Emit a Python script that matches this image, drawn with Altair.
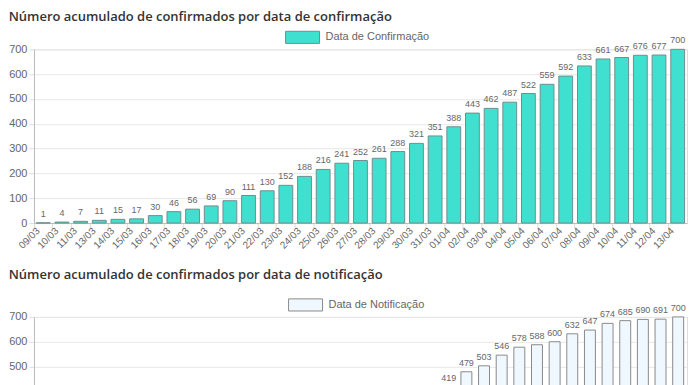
import altair as alt
import pandas as pd

conf_dates = ["09/03", "10/03", "11/03", "13/03", "14/03", "15/03", "16/03", "17/03", "18/03",
              "19/03", "20/03", "21/03", "22/03", "23/03", "24/03", "25/03", "26/03", "27/03",
              "28/03", "29/03", "30/03", "31/03", "01/04", "02/04", "03/04", "04/04", "05/04",
              "06/04", "07/04", "08/04", "09/04", "10/04", "11/04", "12/04", "13/04"]
conf_values = [1, 4, 7, 11, 15, 17, 30, 46, 56, 69, 90, 111, 130, 152, 188, 216, 241, 252,
               261, 288, 321, 351, 388, 443, 462, 487, 522, 559, 592, 633, 661, 667, 676, 677, 700]

notif_dates = ["08/03", "09/03", "10/03", "11/03", "12/03", "13/03", "14/03", "15/03", "16/03",
               "17/03", "18/03", "19/03", "20/03", "21/03", "22/03", "23/03", "24/03", "25/03",
               "26/03", "27/03", "28/03", "29/03", "30/03", "31/03", "01/04", "02/04", "03/04",
               "04/04", "05/04", "06/04", "07/04", "08/04", "09/04", "10/04", "11/04", "12/04", "13/04"]
notif_values = [1, 3, 6, 9, 13, 18, 24, 33, 44, 58, 75, 95, 118, 142, 170, 199, 228, 258, 287,
                318, 340, 358, 375, 419, 479, 503, 546, 578, 588, 600, 632, 647, 674, 685, 690, 691, 700]

y_ticks = [0, 100, 200, 300, 400, 500, 600, 700]

W = 654
H = 174
LEGEND_PATH = "M-1.4,-0.5L1.4,-0.5L1.4,0.5L-1.4,0.5Z"


def panel(dates, values, series, fill, stroke, title, bar_frac, legend_x, label_off, title_off):
    df = pd.DataFrame({"data": dates, "valor": values, "serie": series})
    base = alt.Chart(df).encode(
        x=alt.X("data:N", sort=dates, title=None,
                scale=alt.Scale(paddingInner=0, paddingOuter=0),
                axis=alt.Axis(labelAngle=315, labelAlign="right", labelBaseline="middle",
                              bandPosition=0, labelOffset=label_off, labelPadding=1,
                              tickSize=5, tickColor="#dddddd", gridColor="#e8e8e8",
                              domainColor="#bbbbbb", labelColor="#666666", labelFontSize=10,
                              labelFont="Liberation Sans", labelOverlap=False)),
        y=alt.Y("valor:Q", title=None, scale=alt.Scale(domain=[0, 700]),
                axis=alt.Axis(values=y_ticks, tickSize=5, tickColor="#dddddd",
                              gridColor="#e8e8e8", domainColor="#bbbbbb",
                              labelColor="#666666", labelFontSize=11,
                              labelFont="Liberation Sans", labelPadding=2)),
    )
    bars = base.mark_bar(stroke=stroke, strokeWidth=1,
                         width=alt.RelativeBandSize(bar_frac)).encode(
        color=alt.Color("serie:N", scale=alt.Scale(domain=[series], range=[fill]),
                        legend=alt.Legend(title=None, orient="none", legendX=legend_x,
                                          legendY=-25, symbolType=LEGEND_PATH,
                                          symbolSize=590, symbolStrokeColor=stroke,
                                          symbolStrokeWidth=1, symbolOpacity=1,
                                          labelOffset=10,
                                          labelFontSize=11, labelColor="#666666",
                                          labelFont="Liberation Sans", padding=0))
    )
    labels = base.mark_text(dy=-4, baseline="bottom", fontSize=9, color="#666666",
                            font="Liberation Sans").encode(text="valor:Q")
    return alt.layer(bars, labels).properties(
        width=W, height=H,
        title=alt.TitleParams(title, anchor="start", frame="bounds", fontSize=13,
                              font="Open Sans", fontWeight=600, color="#333333",
                              offset=title_off),
    )


top = panel(conf_dates, conf_values, "Data de Confirmação", "#40E0D0", "#6f8f8b",
            "Número acumulado de confirmados por data de confirmação", 0.74, 256, -5, 0)
bottom = panel(notif_dates, notif_values, "Data de Notificação", "#F0F8FF", "#8a8a8a",
               "Número acumulado de confirmados por data de notificação", 0.62, 259, -5, 10)

chart = alt.vconcat(top, bottom, spacing=17).resolve_scale(color="independent").resolve_legend(
    color="independent"
).properties(padding={"top": 2, "left": 0, "right": 0, "bottom": 0}).configure_view(
    stroke=None
).configure(background="white")

chart.save("out.html", embed_options={"renderer": "svg", "actions": False})
